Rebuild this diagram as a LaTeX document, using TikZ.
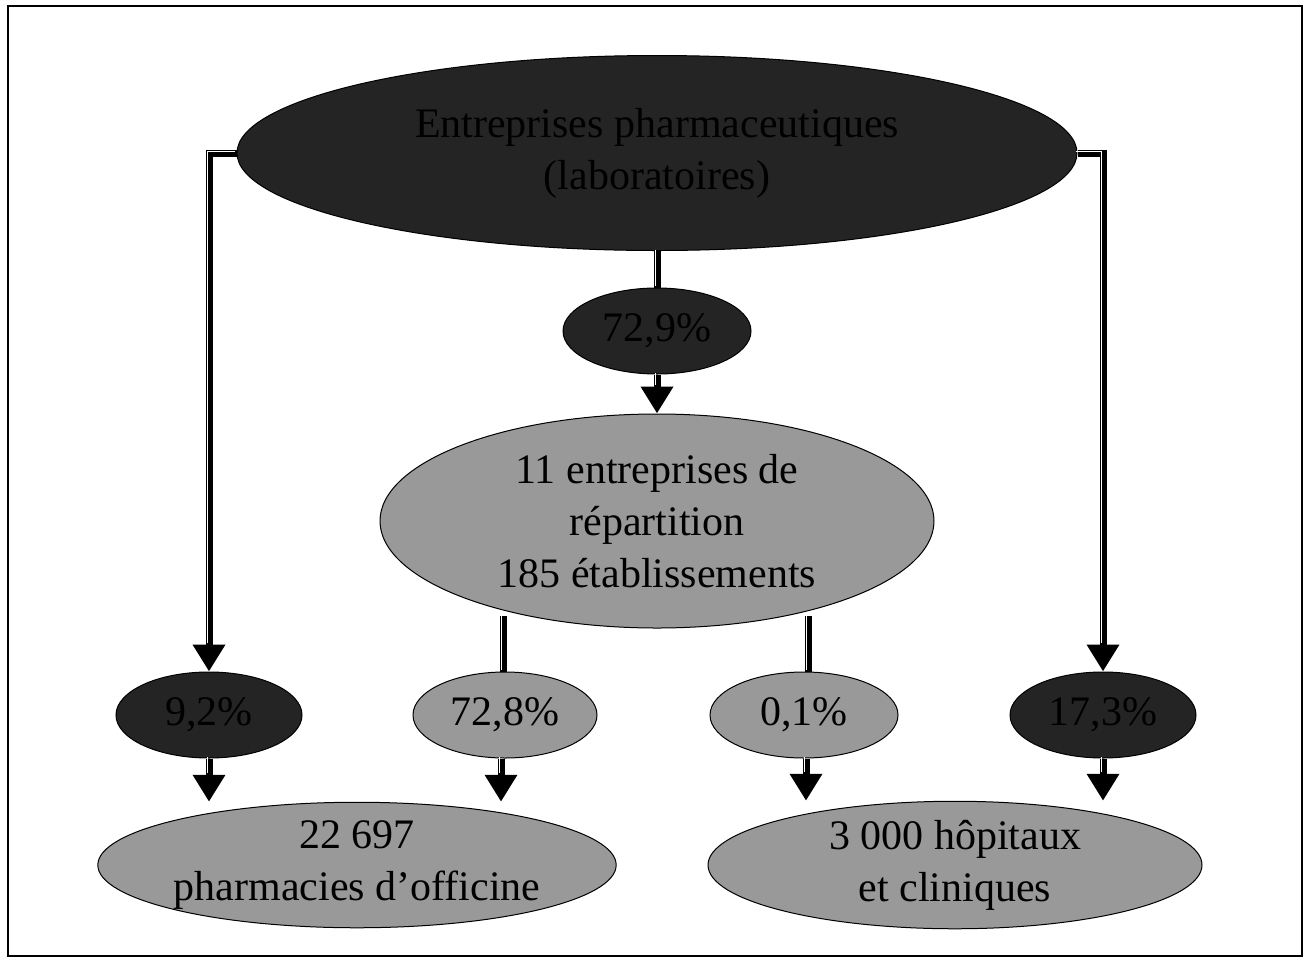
\documentclass[tikz,border=0pt]{standalone}
\usepackage{fontspec}
\setmainfont{Liberation Serif}
\usetikzlibrary{arrows.meta, shapes.geometric}
\tikzset{
  blob/.style={ellipse, draw=black, line width=1pt, inner sep=0pt, align=center,
    font=\fontsize{42}{52}\selectfont},
  darkblob/.style={blob, fill=black!86, text=black},
  lightblob/.style={blob, fill=black!40},
  pipe/.style={draw=black, line width=7pt,
    postaction={draw=white, line width=1.5pt, transform canvas={xshift=-1.5pt, yshift=1.5pt}}},
  feed/.style={draw=black, line width=7pt, -{Triangle[width=31pt, length=27pt]},
    postaction={draw=white, line width=1.5pt, -, shorten >=27pt,
      transform canvas={xshift=-1.5pt, yshift=1.5pt}}},
}

\begin{document}
\begin{tikzpicture}[x=1pt, y=-1pt]
  \useasboundingbox (0,0) rectangle (1309,970);
  % frame
  \draw[line width=1.5pt] (8,6) rectangle (1302,956);
  % producers
  \node[darkblob, minimum width=840pt, minimum height=195pt] (lab) at (657,153)
    {Entreprises pharmaceutiques\\(laboratoires)};
  \node[darkblob, minimum width=188pt, minimum height=86pt] (direct) at (657,331) {72,9\%};
  % wholesalers
  \node[lightblob, minimum width=554pt, minimum height=214pt] (rep) at (657,521)
    {11 entreprises de\\répartition\\185 établissements};
  % shares
  \node[darkblob, minimum width=186pt, minimum height=86pt] (p1) at (209,715) {9,2\%};
  \node[lightblob, minimum width=184pt, minimum height=86pt] (p2) at (505,715) {72,8\%};
  \node[lightblob, minimum width=188pt, minimum height=86pt] (p3) at (804,715) {0,1\%};
  \node[darkblob, minimum width=186pt, minimum height=86pt] (p4) at (1103,715) {17,3\%};
  % outlets
  \node[lightblob, minimum width=488pt, minimum height=120pt] (pharm) at (357,865)
    {22 697\\pharmacies d’officine};
  \node[lightblob, minimum width=494pt, minimum height=120pt] (hosp) at (955,865)
    {3 000 hôpitaux\\et cliniques};
  % connectors from the top
  \draw[feed] (lab.west) -| (p1.north);
  \draw[feed] (lab.east) -| (p4.north);
  \draw[pipe] (lab.south) -- (direct.north);
  \draw[feed] (direct.south) -- (rep.north);
  % connectors from the wholesalers
  \draw[pipe] ([xshift=-2pt]p2.north) -- ++(0,-56);
  \draw[pipe] ([xshift=4pt]p3.north) -- ++(0,-56);
  % connectors to the outlets
  \draw[feed] (p1.south) -- (p1.south |- pharm.north);
  \draw[feed] ([xshift=-4pt]p2.south) -- ([xshift=-4pt]p2.south |- pharm.north);
  \draw[feed] ([xshift=2pt]p3.south) -- ([xshift=2pt]p3.south |- hosp.north);
  \draw[feed] (p4.south) -- (p4.south |- hosp.north);
\end{tikzpicture}
\end{document}
